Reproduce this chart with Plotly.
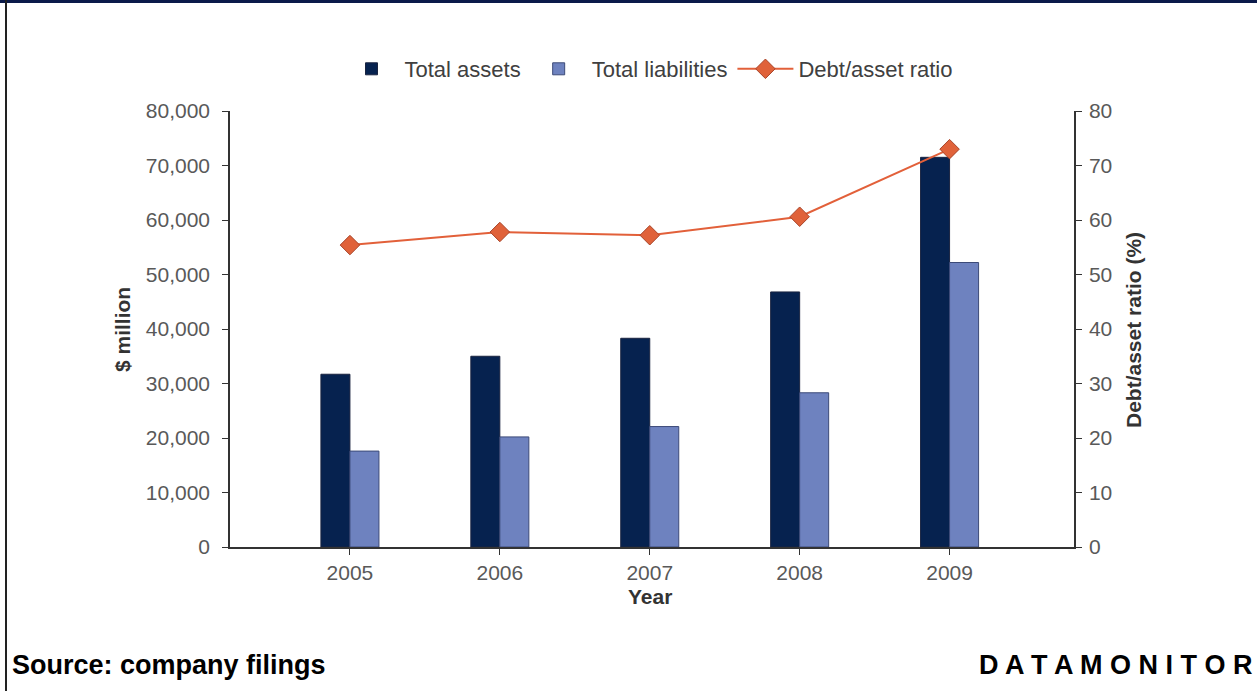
import plotly.graph_objects as go

years = ["2005", "2006", "2007", "2008", "2009"]
total_assets = [31700, 35000, 38300, 46800, 71500]
total_liabilities = [17600, 20200, 22100, 28300, 52200]
debt_asset_ratio = [55.4, 57.8, 57.2, 60.6, 73.0]

xpos = list(range(len(years)))

W, H = 1257, 691
L, R, T, B = 230, 1074, 111, 547
pw, ph = R - L, B - T

def px(x):
    return (x - L) / pw

def py(y):
    return (B - y) / ph

fig = go.Figure()
fig.add_trace(go.Bar(
    x=xpos, y=total_assets, name="Total assets",
    marker=dict(color="#06224F", line=dict(color="#1a2440", width=1)),
))
fig.add_trace(go.Bar(
    x=xpos, y=total_liabilities, name="Total liabilities",
    marker=dict(color="#6E82BF", line=dict(color="#3c4a78", width=1)),
))
fig.add_trace(go.Scatter(
    x=xpos, y=debt_asset_ratio, name="Debt/asset ratio", yaxis="y2",
    mode="lines+markers",
    line=dict(color="#E2603A", width=2),
    marker=dict(symbol="diamond", size=15, color="#E0623A",
                line=dict(color="#A8452A", width=1)),
))

tickfont = dict(family="Liberation Sans, Arial", size=21, color="#595959")
titlefont = dict(family="Liberation Sans, Arial", size=21, color="#333333")

axis_common = dict(showline=True, linecolor="#333333", linewidth=1.5,
                   ticks="outside", ticklen=6, tickcolor="#333333",
                   showgrid=False, zeroline=False, tickfont=tickfont)

fig.update_layout(
    width=W, height=H,
    margin=dict(l=L, r=W - R, t=T, b=H - B, pad=0),
    paper_bgcolor="white", plot_bgcolor="white",
    barmode="group", bargap=0.613, bargroupgap=0,
    showlegend=True,
    legend=dict(orientation="h", x=px(648), y=py(69), xanchor="center", yanchor="middle",
                font=dict(family="Liberation Sans, Arial", size=22, color="#404040"),
                itemwidth=56, tracegroupgap=0),
    xaxis=dict(range=[-0.8, 4.83], tickvals=xpos, ticktext=years, **axis_common),
    yaxis=dict(range=[0, 80000], dtick=10000, tickformat=",", ticklabelstandoff=8,
               **axis_common),
    yaxis2=dict(range=[0, 80], dtick=10, overlaying="y", side="right",
                ticklabelstandoff=3, **axis_common),
    font=dict(family="Liberation Sans, Arial"),
)

anns = [
    dict(text="<b>$ million</b>", x=px(122), y=py(330), textangle=-90, font=titlefont,
         xanchor="center", yanchor="middle"),
    dict(text="<b>Debt/asset ratio (%)</b>", x=px(1133), y=py(330), textangle=-90, font=titlefont,
         xanchor="center", yanchor="middle"),
    dict(text="<b>Year</b>", x=px(650), y=py(596), font=titlefont,
         xanchor="center", yanchor="middle"),
    dict(text="<b>Source: company filings</b>", x=px(10), y=py(665),
         font=dict(family="Liberation Sans, Arial", size=27, color="black"),
         xanchor="left", yanchor="middle"),
    dict(text="<b>D A T A M O N I T O R</b>", x=px(1254), y=py(665),
         font=dict(family="Liberation Sans, Arial", size=27, color="black"),
         xanchor="right", yanchor="middle"),
]
for a in anns:
    a.update(xref="paper", yref="paper", showarrow=False)
    fig.add_annotation(**a)

fig.add_shape(type="rect", xref="paper", yref="paper",
              x0=px(0), x1=px(W), y0=py(0), y1=py(3),
              fillcolor="#0B1A4A", line=dict(width=0), layer="above")
fig.add_shape(type="line", xref="paper", yref="paper",
              x0=px(6), x1=px(6), y0=py(0), y1=py(H),
              line=dict(color="#222222", width=2), layer="above")

fig.write_html("out.html", config={"displayModeBar": False},
               post_script="document.body.style.margin='0';document.body.style.overflow='hidden';")
